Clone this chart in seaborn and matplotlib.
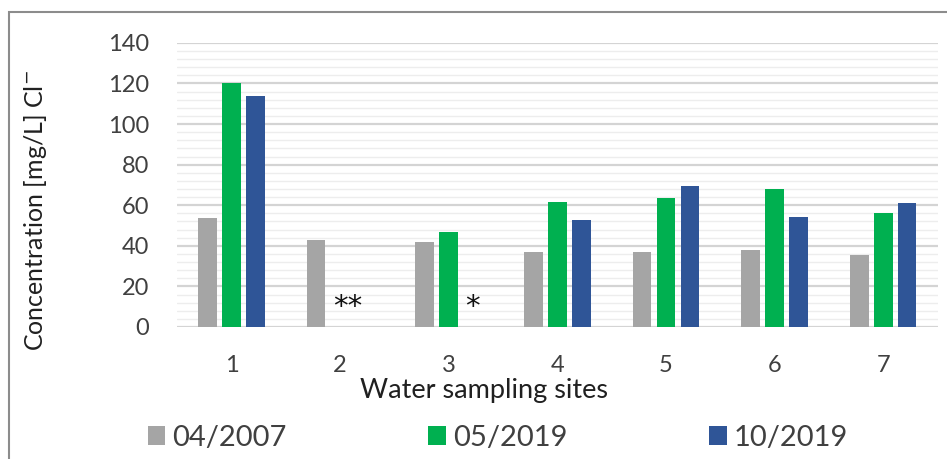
import matplotlib
matplotlib.use("Agg")
import matplotlib.pyplot as plt
import numpy as np
import pandas as pd
import seaborn as sns
from matplotlib.patches import Rectangle
from matplotlib.ticker import MultipleLocator

sites = ["1", "2", "3", "4", "5", "6", "7"]
apr_2007 = [53.6, 42.8, 42.1, 37.0, 37.0, 37.9, 35.7]
may_2019 = [120.3, np.nan, 46.7, 61.8, 63.8, 68.2, 56.2]
oct_2019 = [113.9, np.nan, np.nan, 52.9, 69.5, 54.2, 61.3]
series_names = ["04/2007", "05/2019", "10/2019"]
colors = ["#A5A5A5", "#00B050", "#2F5597"]

df = pd.DataFrame({
    "site": sites * 3,
    "series": np.repeat(series_names, len(sites)),
    "value": apr_2007 + may_2019 + oct_2019,
})

sns.set_style("white")
plt.rcParams["font.family"] = ["Lato", "DejaVu Sans"]

fig = plt.figure(figsize=(9.47, 4.59), dpi=100)
ax = fig.add_axes([0.187, 0.2876, 0.803, 0.619])

sns.barplot(data=df, x="site", y="value", hue="series", hue_order=series_names,
            palette=colors, width=0.66, gap=0.22, saturation=1,
            linewidth=0, ax=ax, legend=True)

ax.set_ylim(0, 140)
ax.set_xlim(-0.5, 6.5)
ax.yaxis.set_major_locator(MultipleLocator(20))
ax.yaxis.set_minor_locator(MultipleLocator(4))
ax.grid(True, which="major", axis="y", color="#D4D4D4", linewidth=1.6)
ax.grid(True, which="minor", axis="y", color="#EDEDED", linewidth=1.0)
ax.set_axisbelow(True)
for s in ["top", "right", "left", "bottom"]:
    ax.spines[s].set_visible(False)
ax.tick_params(axis="both", which="both", length=0, labelsize=17, colors="#404040")
ax.tick_params(axis="y", pad=20)
ax.tick_params(axis="x", pad=20)

ax.set_ylabel("Concentration [mg/L] Cl$^{-}$", fontsize=18, color="#202020")
ax.yaxis.set_label_coords(-0.168, 0.41)
ax.set_xlabel("Water sampling sites", fontsize=19.5, color="#202020")
ax.xaxis.set_label_coords(0.404, -0.18)

# markers for missing samples
ax.text(1.07, 10, "**", fontsize=21, ha="center", va="center", color="#111111",
        family="DejaVu Sans")
ax.text(2.22, 10, "*", fontsize=21, ha="center", va="center", color="#111111",
        family="DejaVu Sans")

handles, labels = ax.get_legend_handles_labels()
ax.legend(handles, labels, loc="center", bbox_to_anchor=(0.422, -0.39),
          ncol=3, frameon=False, fontsize=21, handlelength=0.6, handleheight=0.6,
          handletextpad=0.25, columnspacing=4.85, labelcolor="#404040")

# chart frame
fig.patches.append(Rectangle((0.009, -0.1), 1.2, 1.074, transform=fig.transFigure,
                             fill=False, edgecolor="#8C8C8C", linewidth=1.5))

fig.savefig("out.png", dpi=100)
